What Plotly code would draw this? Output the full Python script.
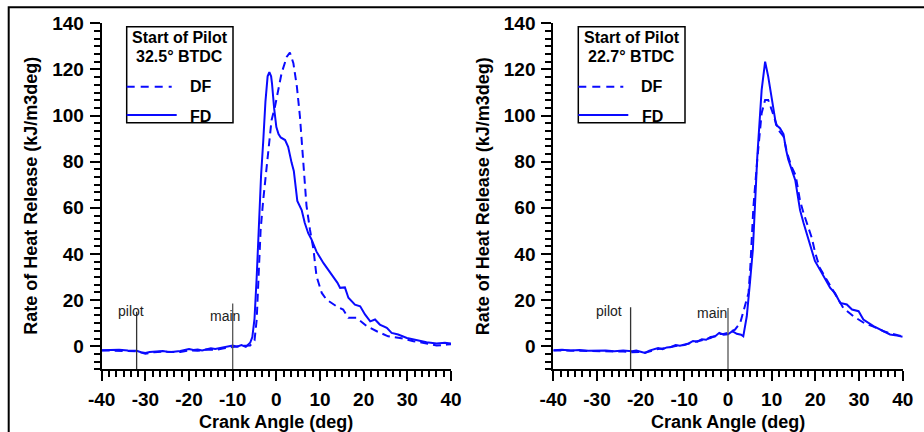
import plotly.graph_objects as go

# ---- Rate of heat release, left case (pilot start 32.5 deg BTDC) ----
left_df_angle = [-40, -38, -36, -34, -32, -30, -28, -26, -24, -22, -20, -18, -16, -14, -12, -10, -8, -6,
                 -5, -4.5, -4.1, -3.6, -3, -2.6, -1.8, -1.1, -0.3, 0.45, 1.2, 2.4, 3.1, 3.9, 4.7, 5.4,
                 6.2, 6.9, 7.7, 8.5, 9.2, 10.4, 11.5, 13.8, 15.3, 16.5, 18.4, 20.7, 23, 25.6, 28.3,
                 31.4, 34.4, 36.7, 39, 40]
left_df_rhr = [-1.8, -1.9, -1.7, -2.0, -2.2, -3.2, -2.6, -2.4, -2.6, -2.5, -1.8, -2.0, -1.4, -1.6, -0.9,
               -0.2, 0.2, 0.3, 2.5, 11.6, 29, 50.5, 63.5, 70.5, 86.6, 98, 104, 111, 118.4, 125.5, 127.3,
               122.7, 112.6, 99.6, 79, 61, 50.5, 42, 30.3, 23.1, 20.2, 17.3, 15.9, 12.3, 12.3, 8.7, 6.5,
               4.3, 3.6, 2.2, 1.2, 0.3, 0.7, 0.9]

left_fd_angle = [-40, -38, -36, -34, -32, -31, -30, -29, -28, -26, -25, -24, -22, -21, -20, -19, -18, -17,
                 -16, -15, -14, -13, -12, -11, -10, -9, -8, -7, -6, -5.5, -5, -4.5, -4, -3.5, -3, -2.5,
                 -2, -1.6, -1.2, -1, -0.5, 0, 0.5, 1, 2, 2.7, 3.5, 4, 4.8, 5.8, 6.5, 7.3, 8, 9.2, 10.8,
                 12.7, 14, 14.6, 15.7, 16.5, 18, 19.2, 20.3, 21.5, 22.6, 23.7, 25.3, 26.4, 27.9, 29.9,
                 32, 34.4, 36.7, 38.6, 40]
left_fd_rhr = [-1.7, -1.6, -1.5, -1.8, -2.0, -2.6, -2.9, -2.5, -2.3, -2.1, -2.4, -2.5, -2.1, -1.6, -1.2,
               -1.6, -1.4, -1.8, -1.5, -0.9, -1.2, -0.8, -0.5, 0.2, 0.3, -0.2, 0.5, -0.3, 1.5, 4, 12, 30,
               54, 74, 89, 106, 117, 118.8, 117, 114, 103, 95, 92, 90.5, 89.4, 86.5, 79.5, 76, 63, 59,
               53.5, 49, 46.5, 41, 36, 31, 27.5, 25.3, 25.5, 21, 18, 17.3, 13.8, 10.8, 11.6, 9.4, 8,
               5.8, 5.1, 3.6, 2.6, 1.7, 1.2, 1.5, 1.2]

# ---- Rate of heat release, right case (pilot start 22.7 deg BTDC) ----
right_df_angle = [-40, -36, -32, -28, -24, -22, -20, -19, -18, -16, -14, -12, -10, -8, -6, -4, -2, -1, 0,
                  0.9, 1.6, 2.8, 3.9, 4.7, 5.1, 5.8, 6.7, 7.2, 7.7, 8.5, 9.2, 10, 10.8, 11.5, 12.7,
                  13.5, 14.5, 15.5, 16.5, 17.3, 19.2, 19.9, 21, 22.2, 23.4, 24.5, 26.4, 28.7, 31.4,
                  33.3, 35.6, 37.1, 38.7, 40]
right_df_rhr = [-1.8, -1.9, -2.2, -2.1, -2.3, -2.6, -2.5, -2.8, -2.2, -1.2, -0.7, 0.1, 0.5, 1.8, 2.6,
                3.6, 5.3, 5.3, 5.8, 6.5, 7.2, 10.1, 17.3, 23.1, 34, 60, 80.8, 89.5, 101, 106.8, 106.8,
                102.5, 98, 93.8, 91, 84, 78, 74, 63, 57.7, 46.9, 41, 34, 30, 26, 22.5, 16.6, 13, 9.8,
                8.5, 6.5, 5.6, 4.8, 4.3]

right_fd_angle = [-40, -38, -36, -34, -32, -30, -28, -26, -24, -22, -21, -20, -19, -18, -17, -16, -15,
                  -14, -13, -12, -11, -10, -9, -8, -7, -6, -5, -4, -3, -2, -1, 0, 1, 2, 3, 3.5, 4.3, 5,
                  5.7, 6.2, 6.7, 7.7, 8.5, 9.2, 10, 11, 11.9, 12.7, 13.3, 13.8, 15.4, 16.5, 17.3, 18.4,
                  19.9, 21.1, 22.2, 23.4, 24.5, 25.7, 27.2, 28.4, 29.9, 31, 33.3, 35.6, 37.1, 38.7, 40]
right_fd_rhr = [-1.7, -1.5, -1.8, -1.6, -2.0, -1.8, -1.9, -2.2, -1.8, -2.2, -1.9, -2.4, -2.9, -1.9, -1.5,
                -0.8, -1.3, -0.5, -0.3, 0.5, 0.2, 0.8, 1.2, 2.3, 2.0, 3.0, 2.8, 4.0, 4.2, 5.8, 5.0, 5.2,
                6.5, 5.4, 5.0, 4.3, 13, 27, 42, 62, 82, 111, 123.4, 117, 108, 96, 94.5, 92, 85.2, 81,
                72, 59, 53.4, 46, 37, 33, 29.6, 25.3, 23, 18.8, 18.1, 15.9, 15.2, 11.6, 8.7, 6.5, 5.1,
                4.6, 4.1]

# Injection events per panel: (label, crank angle, marker top)
left_events = [("pilot", -32, 15.0), ("main", -10, 18.5)]
right_events = [("pilot", -22.3, 16.9), ("main", 0, 16.6)]
pilot_start = ["32.5\u00b0 BTDC", "22.7\u00b0 BTDC"]

x_tick_vals = [-40, -30, -20, -10, 0, 10, 20, 30, 40]
x_tick_text = ["-40", "-30", "-20", "-10", "0", "10", "20", "30", "40"]
y_tick_vals = [0, 20, 40, 60, 80, 100, 120, 140]
y_tick_text = ["0", "20", "40", "60", "80", "100", "120", "140"]

W, H = 924, 432
BLUE = "#0a0aff"
FONT = "Arial, Liberation Sans, sans-serif"
# where each event label sits relative to its marker line (angle shift, height)
label_place = {
    (0, "pilot"): (-1.2, 15.2), (0, "main"): (-1.7, 13.0),
    (1, "pilot"): (-5.0, 15.2), (1, "main"): (-3.6, 14.2),
}


def px(x):
    return x / W


def py(y):
    return 1 - y / H


fig = go.Figure()

panels = [
    ("x", "y", left_df_angle, left_df_rhr, left_fd_angle, left_fd_rhr),
    ("x2", "y2", right_df_angle, right_df_rhr, right_fd_angle, right_fd_rhr),
]
for xa, ya, dfx, dfy, fdx, fdy in panels:
    fig.add_trace(go.Scatter(x=dfx, y=dfy, mode="lines", xaxis=xa, yaxis=ya, name="DF",
                             line=dict(color=BLUE, width=2, dash="8px,5px"), showlegend=False))
    fig.add_trace(go.Scatter(x=fdx, y=fdy, mode="lines", xaxis=xa, yaxis=ya, name="FD",
                             line=dict(color=BLUE, width=2), showlegend=False))

x_dom = [[101.7, 451.0], [553.3, 902.7]]
y_dom = [py(369.3), py(23.3)]

axis_common = dict(
    showline=True, linecolor="black", linewidth=2, showgrid=False, zeroline=False,
    ticks="outside", ticklen=10, tickwidth=1.5, tickcolor="black",
    tickfont=dict(family=FONT, size=19, color="black", weight="bold"),
)

for i, xd in enumerate(x_dom):
    sx = "" if i == 0 else str(i + 1)
    fig.update_layout(**{
        "xaxis" + sx: dict(
            axis_common, domain=[px(xd[0]), px(xd[1])], range=[-40, 40],
            tickmode="array", tickvals=x_tick_vals, ticktext=x_tick_text,
            anchor="y" + sx, ticklabelstandoff=2,
            minor=dict(tickmode="linear", tick0=0, dtick=10 / 6, ticks="outside", ticklen=6,
                       tickwidth=1.5, tickcolor="black", showgrid=False),
        ),
        "yaxis" + sx: dict(
            axis_common, domain=y_dom, range=[-10, 140],
            tickmode="array", tickvals=y_tick_vals, ticktext=y_tick_text,
            anchor="x" + sx, ticklabelstandoff=2,
            minor=dict(tickmode="linear", tick0=0, dtick=20 / 6, ticks="outside", ticklen=6,
                       tickwidth=1.5, tickcolor="black", showgrid=False),
        ),
    })

shapes = []
annotations = []

# outer frame
shapes.append(dict(type="rect", xref="paper", yref="paper", x0=px(8.7), x1=px(940), y0=py(450),
                   y1=py(7.3), line=dict(color="black", width=2), layer="below"))

for i, events in enumerate([left_events, right_events]):
    sx = "" if i == 0 else str(i + 1)
    for label, ang, top in events:
        shapes.append(dict(type="line", xref="x" + sx, yref="y" + sx, x0=ang, x1=ang, y0=-10, y1=top,
                           line=dict(color="#333333" if label == "pilot" else "#555555", width=1.3)))
        dx, ly = label_place[(i, label)]
        annotations.append(dict(
            xref="x" + sx, yref="y" + sx, x=ang + dx, y=ly, text=label, showarrow=False,
            xanchor="center", yanchor="middle",
            font=dict(family=FONT, size=14, color="#222222"),
        ))

# legend boxes
boxes = [(126.7, 233.0), (578.3, 685.0)]
for (bx0, bx1), start in zip(boxes, pilot_start):
    cx = (bx0 + bx1) / 2
    shapes.append(dict(type="rect", xref="paper", yref="paper", x0=px(bx0), x1=px(bx1), y0=py(122.7),
                       y1=py(26.7), line=dict(color="black", width=1.5), fillcolor="white"))
    for txt, ty in [("Start of Pilot", 37), (start, 56)]:
        annotations.append(dict(xref="paper", yref="paper", x=px(cx), y=py(ty), showarrow=False,
                                xanchor="center", yanchor="middle", text="<b>" + txt + "</b>",
                                font=dict(family=FONT, size=16, color="black")))
    shapes.append(dict(type="line", xref="paper", yref="paper", x0=px(bx0), x1=px(bx0 + 45),
                       y0=py(86.7), y1=py(86.7), line=dict(color=BLUE, width=2, dash="8px,6px")))
    shapes.append(dict(type="line", xref="paper", yref="paper", x0=px(bx0), x1=px(bx0 + 50),
                       y0=py(115), y1=py(115), line=dict(color=BLUE, width=2)))
    for txt, ty in [("DF", 87), ("FD", 116)]:
        annotations.append(dict(xref="paper", yref="paper", x=px(bx0 + 74), y=py(ty), showarrow=False,
                                xanchor="center", yanchor="middle", text="<b>" + txt + "</b>",
                                font=dict(family=FONT, size=16, color="black")))

# axis titles
for (xd0, xd1), ytx in zip(x_dom, [31.5, 483.0]):
    annotations.append(dict(xref="paper", yref="paper", x=px((xd0 + xd1) / 2), y=py(421.5),
                            showarrow=False, xanchor="center", yanchor="middle",
                            text="<b>Crank Angle (deg)</b>",
                            font=dict(family=FONT, size=18, color="black")))
    annotations.append(dict(xref="paper", yref="paper", x=px(ytx), y=py(196.3), showarrow=False,
                            xanchor="center", yanchor="middle", textangle=-90,
                            text="<b>Rate of Heat Release (kJ/m3deg)</b>",
                            font=dict(family=FONT, size=18, color="black")))

fig.update_layout(
    width=W, height=H, margin=dict(l=0, r=0, t=0, b=0, pad=0, autoexpand=False),
    paper_bgcolor="white", plot_bgcolor="rgba(0,0,0,0)",
    shapes=shapes, annotations=annotations, showlegend=False,
)

fig.write_html("out.html")
